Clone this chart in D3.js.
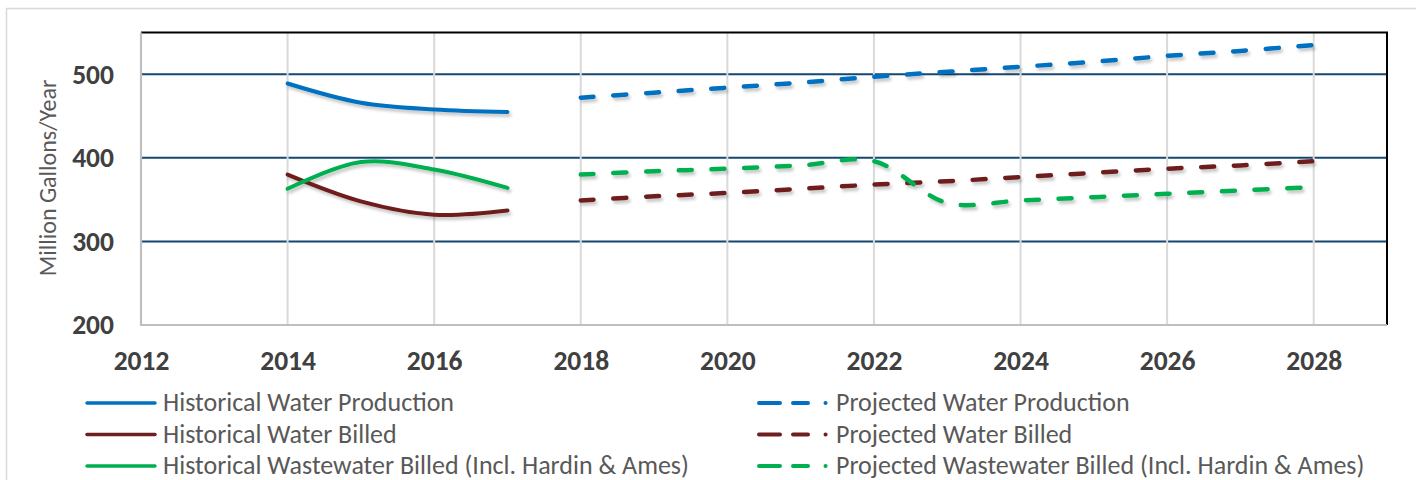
<!DOCTYPE html>
<html>
<head>
<meta charset="utf-8">
<script src="https://cdn.jsdelivr.net/npm/d3@7"></script>
<style>
  body { margin: 0; background: #fff; }
  text { font-family: Calibri, Carlito, Lato, sans-serif; }
</style>
</head>
<body>
<script>
const histYears = [2014, 2015, 2016, 2017];
const histProduction = [489, 466, 458, 455];
const histBilled = [380, 348, 332, 337];
const histWastewater = [363, 395, 386, 364];

const projYears = [2018, 2019, 2020, 2021, 2022, 2023, 2024, 2025, 2026, 2027, 2028];
const projProduction = [472, 478, 484, 490, 497, 503, 509, 515, 522, 528, 535];
const projBilled = [349, 354, 358, 363, 368, 372, 377, 382, 387, 391, 396];
const projWastewater = [380, 384, 387, 391, 396, 346, 349, 353, 357, 361, 365];

const xTicks = [2012, 2014, 2016, 2018, 2020, 2022, 2024, 2026, 2028];
const yTicks = [200, 300, 400, 500];

const seriesNames = [
  "Historical Water Production", "Historical Water Billed", "Historical Wastewater Billed (Incl. Hardin & Ames)",
  "Projected Water Production", "Projected Water Billed", "Projected Wastewater Billed (Incl. Hardin & Ames)"
];
const colors = ["#0070c0", "#6e1f1f", "#00b050"];

const width = 1416;
const height = 480;
const plot = { left: 141, right: 1387, top: 32.5, bottom: 325 };

const svg = d3.select("body").append("svg")
    .attr("width", width)
    .attr("height", height);

const defs = svg.append("defs");
defs.append("filter")
    .attr("id", "shadow")
    .attr("x", "-5%").attr("y", "-20%").attr("width", "110%").attr("height", "160%")
  .append("feDropShadow")
    .attr("dx", 2).attr("dy", 3)
    .attr("stdDeviation", 1.6)
    .attr("flood-color", "#000")
    .attr("flood-opacity", 0.22);

// outer chart frame
svg.append("rect")
    .attr("x", 6.5).attr("y", 8.5)
    .attr("width", width).attr("height", height)
    .attr("fill", "#fff")
    .attr("stroke", "#d9d9d9")
    .attr("stroke-width", 1.5);

const x = d3.scaleLinear()
    .domain([2012, 2029])
    .range([plot.left, plot.right]);

const y = d3.scaleLinear()
    .domain([200, 550])
    .range([plot.bottom, plot.top]);

// horizontal grid
svg.append("g")
  .selectAll("line")
  .data(yTicks.filter(d => d > 200))
  .enter().append("line")
    .attr("x1", plot.left).attr("x2", plot.right)
    .attr("y1", d => y(d)).attr("y2", d => y(d))
    .attr("stroke", "#124873")
    .attr("stroke-width", 2);

// vertical grid
svg.append("g")
  .selectAll("line")
  .data(xTicks.filter(d => d > 2012))
  .enter().append("line")
    .attr("x1", d => x(d)).attr("x2", d => x(d))
    .attr("y1", plot.top).attr("y2", plot.bottom)
    .attr("stroke", "#d9d9d9")
    .attr("stroke-width", 2);

// plot border
svg.append("path")
    .attr("d", `M${plot.left},${plot.top}H${plot.right}V${plot.bottom}`)
    .attr("fill", "none")
    .attr("stroke", "#000")
    .attr("stroke-width", 2);
svg.append("path")
    .attr("d", `M${plot.left},${plot.top}V${plot.bottom}H${plot.right}`)
    .attr("fill", "none")
    .attr("stroke", "#bfbfbf")
    .attr("stroke-width", 2.2);

// axes (labels only)
const xAxis = svg.append("g")
    .attr("transform", `translate(0,${plot.bottom + 35})`)
    .call(d3.axisBottom(x).tickValues(xTicks).tickFormat(d3.format("d")).tickSize(0).tickPadding(0));
xAxis.select(".domain").remove();
xAxis.selectAll("text")
    .attr("dy", "0.35em")
    .attr("font-size", 27.5)
    .attr("font-weight", "bold")
    .attr("fill", "#404040");

const yAxis = svg.append("g")
    .attr("transform", `translate(114,0)`)
    .call(d3.axisLeft(y).tickValues(yTicks).tickSize(0).tickPadding(0));
yAxis.select(".domain").remove();
yAxis.selectAll("text")
    .attr("font-size", 27.5)
    .attr("font-weight", "bold")
    .attr("fill", "#404040");

svg.append("text")
    .attr("transform", "translate(48,178) rotate(-90)")
    .attr("text-anchor", "middle")
    .attr("dy", "0.35em")
    .attr("font-size", 24)
    .attr("fill", "#595959")
    .text("Million Gallons/Year");

const line = d3.line()
    .x(d => x(d[0]))
    .y(d => y(d[1]))
    .curve(d3.curveCatmullRom.alpha(0.5));

const hist = [histProduction, histBilled, histWastewater];
const proj = [projProduction, projBilled, projWastewater];

const lines = svg.append("g").attr("filter", "url(#shadow)");

hist.forEach((vals, i) => {
  lines.append("path")
      .datum(histYears.map((yr, j) => [yr, vals[j]]))
      .attr("d", line)
      .attr("fill", "none")
      .attr("stroke", colors[i])
      .attr("stroke-width", 4)
      .attr("stroke-linecap", "round");
});

proj.forEach((vals, i) => {
  lines.append("path")
      .datum(projYears.map((yr, j) => [yr, vals[j]]))
      .attr("d", line)
      .attr("fill", "none")
      .attr("stroke", colors[i])
      .attr("stroke-width", 4.5)
      .attr("stroke-linecap", "round")
      .attr("stroke-dasharray", "13,19.7");
});

// legend
const legend = svg.append("g");
const rowY = [403, 434.5, 466];

seriesNames.forEach((name, i) => {
  const col = i < 3 ? 0 : 1;
  const r = i % 3;
  const g = legend.append("g").attr("transform", `translate(0,${rowY[r]})`);
  if (col === 0) {
    g.append("line")
        .attr("x1", 87).attr("x2", 155)
        .attr("stroke", colors[r])
        .attr("stroke-width", 3.5)
        .attr("stroke-linecap", "round");
  } else {
    g.append("line")
        .attr("x1", 759).attr("x2", 827)
        .attr("stroke", colors[r])
        .attr("stroke-width", 4)
        .attr("stroke-linecap", "round")
        .attr("stroke-dasharray", "21,13,15,17.5,0.1,40");
  }
  g.append("text")
      .attr("x", col === 0 ? 163 : 836)
      .attr("dy", "0.32em")
      .attr("font-size", 26)
      .attr("fill", "#595959")
      .text(name);
});
</script>
</body>
</html>
